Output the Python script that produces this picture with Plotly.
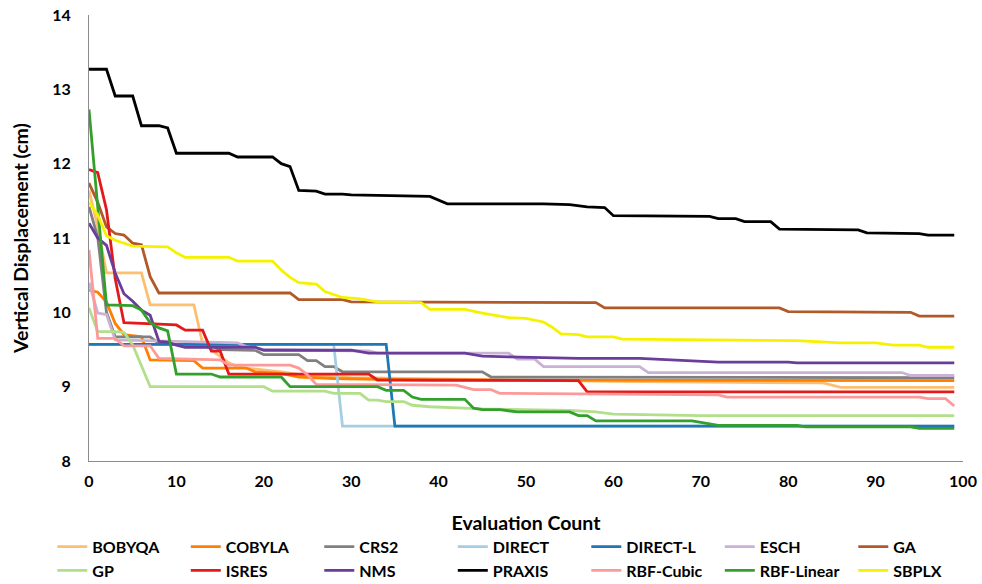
import plotly.graph_objects as go

# ---- data (breakpoints) ----
names = ["BOBYQA", "COBYLA", "CRS2", "DIRECT", "DIRECT-L", "ESCH", "GA",
         "GP", "ISRES", "NMS", "PRAXIS", "RBF-Cubic", "RBF-Linear", "SBPLX"]
colors = ["#fdbf6f", "#ff7f00", "#808080", "#a6cee3", "#1f78b4", "#cab2d6", "#b15928",
          "#b2df8a", "#e31a1c", "#6a3d9a", "#000000", "#fb9a99", "#33a02c", "#f5f200"]

bobyqa_x = [0, 1, 2, 6, 7, 12, 13, 14, 15, 16, 17, 18, 22, 25, 30, 40, 60, 84, 85, 86, 99]
bobyqa_y = [11.64, 11.15, 10.53, 10.53, 10.10, 10.10, 9.58, 9.49, 9.40, 9.32, 9.27, 9.25, 9.20, 9.15, 9.12, 9.10, 9.07, 9.05, 9.02, 8.99, 8.99]

cobyla_x = [0, 1, 2, 3, 4, 5, 6, 7, 12, 13, 18, 19, 22, 24, 28, 33, 39, 99]
cobyla_y = [10.30, 10.27, 10.14, 9.85, 9.70, 9.68, 9.67, 9.36, 9.35, 9.25, 9.25, 9.20, 9.18, 9.13, 9.11, 9.10, 9.09, 9.08]

crs2_x = [0, 1, 2, 3, 7, 8, 14, 15, 19, 20, 24, 25, 26, 27, 28, 29, 45, 46, 99]
crs2_y = [11.42, 11.01, 10.00, 9.67, 9.67, 9.58, 9.55, 9.50, 9.49, 9.43, 9.43, 9.35, 9.35, 9.27, 9.27, 9.20, 9.20, 9.13, 9.12]

direct_x = [0, 28, 29, 99]
direct_y = [9.57, 9.57, 8.47, 8.47]

directl_x = [0, 34, 35, 99]
directl_y = [9.57, 9.57, 8.47, 8.47]

esch_x = [0, 1, 2, 3, 17, 18, 20, 32, 33, 48, 49, 51, 52, 63, 64, 93, 94, 99]
esch_y = [10.40, 9.99, 9.97, 9.63, 9.59, 9.54, 9.50, 9.48, 9.45, 9.45, 9.37, 9.37, 9.27, 9.27, 9.19, 9.19, 9.15, 9.15]

ga_x = [0, 1, 2, 3, 4, 5, 6, 7, 8, 23, 24, 29, 30, 58, 59, 79, 80, 94, 95, 99]
ga_y = [11.74, 11.48, 11.15, 11.06, 11.04, 10.93, 10.91, 10.48, 10.26, 10.26, 10.17, 10.17, 10.14, 10.13, 10.06, 10.06, 10.01, 10.00, 9.95, 9.95]

gp_x = [0, 1, 3, 4, 5, 6, 7, 20, 21, 27, 28, 31, 32, 33, 34, 36, 37, 39, 41, 45, 55, 58, 60, 70, 99]
gp_y = [10.06, 9.74, 9.74, 9.73, 9.56, 9.27, 9.00, 9.00, 8.94, 8.94, 8.91, 8.91, 8.82, 8.82, 8.80, 8.80, 8.75, 8.73, 8.72, 8.70, 8.68, 8.66, 8.63, 8.61, 8.61]

isres_x = [0, 1, 2, 3, 4, 10, 11, 13, 14, 15, 16, 32, 33, 56, 57, 99]
isres_y = [11.92, 11.88, 11.38, 10.45, 9.86, 9.83, 9.76, 9.76, 9.48, 9.48, 9.17, 9.17, 9.09, 9.08, 8.93, 8.93]

nms_x = [0, 1, 2, 3, 4, 5, 6, 7, 8, 9, 10, 11, 19, 20, 30, 32, 43, 45, 48, 56, 63, 66, 72, 80, 81, 99]
nms_y = [11.20, 11.00, 10.90, 10.53, 10.25, 10.15, 10.03, 9.96, 9.61, 9.60, 9.56, 9.53, 9.53, 9.49, 9.49, 9.45, 9.45, 9.41, 9.40, 9.38, 9.38, 9.36, 9.33, 9.33, 9.32, 9.32]

praxis_x = [0, 2, 3, 5, 6, 8, 9, 10, 16, 17, 21, 22, 23, 24, 26, 27, 29, 30, 39, 41, 52, 55, 57, 59, 60,
            71, 72, 74, 75, 78, 79, 88, 89, 92, 93, 95, 96, 99]
praxis_y = [13.27, 13.27, 12.91, 12.91, 12.51, 12.51, 12.48, 12.14, 12.14, 12.09, 12.09, 12.00, 11.96, 11.64,
            11.63, 11.59, 11.59, 11.58, 11.56, 11.46, 11.46, 11.45, 11.42, 11.41, 11.30, 11.29, 11.26, 11.26,
            11.22, 11.22, 11.12, 11.11, 11.07, 11.07, 11.06, 11.06, 11.04, 11.04]

rbfc_x = [0, 1, 3, 4, 7, 8, 15, 16, 23, 24, 25, 26, 42, 44, 46, 47, 72, 73, 95, 96, 98, 99]
rbfc_y = [10.84, 9.65, 9.65, 9.55, 9.55, 9.38, 9.36, 9.29, 9.29, 9.25, 9.16, 9.03, 9.02, 8.96, 8.96, 8.91, 8.89, 8.86, 8.86, 8.84, 8.84, 8.74]

rbfl_x = [0, 2, 5, 6, 7, 8, 9, 10, 14, 15, 22, 23, 33, 34, 36, 37, 38, 43, 44, 45, 47, 49, 55, 56, 57, 58,
          69, 72, 81, 82, 94, 95, 99]
rbfl_y = [12.73, 10.10, 10.09, 10.03, 9.86, 9.79, 9.75, 9.17, 9.17, 9.13, 9.13, 9.00, 9.00, 8.95, 8.95, 8.86,
          8.83, 8.83, 8.71, 8.69, 8.69, 8.66, 8.66, 8.61, 8.61, 8.54, 8.54, 8.48, 8.48, 8.46, 8.46, 8.44, 8.44]

sbplx_x = [0, 1, 2, 3, 5, 9, 10, 11, 16, 17, 21, 22, 23, 24, 26, 27, 29, 31, 33, 38, 39, 43, 45, 48, 50, 52,
           53, 54, 56, 57, 60, 61, 81, 86, 90, 92, 95, 96, 99]
sbplx_y = [11.48, 11.31, 11.03, 10.97, 10.89, 10.88, 10.80, 10.74, 10.74, 10.69, 10.69, 10.57, 10.47, 10.40,
           10.38, 10.28, 10.20, 10.18, 10.14, 10.13, 10.04, 10.04, 9.99, 9.93, 9.92, 9.87, 9.80, 9.71, 9.70,
           9.67, 9.67, 9.64, 9.62, 9.59, 9.59, 9.56, 9.56, 9.53, 9.53]

series_x = [bobyqa_x, cobyla_x, crs2_x, direct_x, directl_x, esch_x, ga_x,
            gp_x, isres_x, nms_x, praxis_x, rbfc_x, rbfl_x, sbplx_x]
series_y = [bobyqa_y, cobyla_y, crs2_y, direct_y, directl_y, esch_y, ga_y,
            gp_y, isres_y, nms_y, praxis_y, rbfc_y, rbfl_y, sbplx_y]

x_ticks = [0, 10, 20, 30, 40, 50, 60, 70, 80, 90, 100]
y_ticks = [8, 9, 10, 11, 12, 13, 14]

FONT = "Lato"

fig = go.Figure()
for n, c, xs, ys in zip(names, colors, series_x, series_y):
    fig.add_trace(go.Scatter(x=xs, y=ys, mode="lines", name=n,
                             line=dict(color=c, width=2.8)))

fig.update_layout(
    width=982, height=584, autosize=False,
    margin=dict(l=89, r=19, t=15, b=123, autoexpand=False),
    paper_bgcolor="white", plot_bgcolor="white",
    font=dict(family=FONT, size=16, color="#000000", weight="bold"),
    showlegend=True,
    legend=dict(orientation="h", x=-0.042, xanchor="left", y=-0.154, yanchor="top",
                entrywidth=88.5, entrywidthmode="pixels", itemwidth=30,
                font=dict(family=FONT, size=16, color="#000000", weight="bold"),
                tracegroupgap=0, bgcolor="rgba(0,0,0,0)"),
    xaxis=dict(range=[0, 100], tickvals=x_ticks, ticktext=[str(v) for v in x_ticks],
               showline=True, linecolor="#8c8c8c", linewidth=1, showgrid=False,
               zeroline=False, ticks="", ticklabelstandoff=6, automargin=False,
               tickfont=dict(size=16, family=FONT, weight="bold"),
               title=dict(text="Evaluation Count", standoff=27,
                          font=dict(size=19.5, family=FONT, weight="bold"))),
    yaxis=dict(range=[8, 14], tickvals=y_ticks, ticktext=[str(v) for v in y_ticks],
               showline=True, linecolor="#8c8c8c", linewidth=1, showgrid=False,
               zeroline=False, ticks="", ticklabelstandoff=14, automargin=False,
               tickfont=dict(size=16, family=FONT, weight="bold"),
               title=dict(text="Vertical Displacement (cm)", standoff=18,
                          font=dict(size=19.5, family=FONT, weight="bold"))),
)

fig.write_html("out.html", config={"displayModeBar": False},
               post_script="document.body.style.margin='0px';")
